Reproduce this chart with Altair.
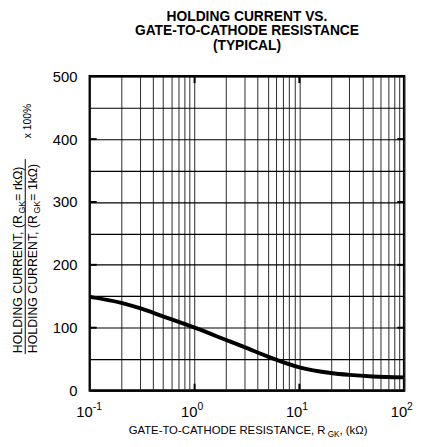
import altair as alt
import pandas as pd

# ---------------- data ----------------
TITLE_LINES = ["HOLDING CURRENT VS.", "GATE-TO-CATHODE RESISTANCE", "(TYPICAL)"]
R_KOHM = [0.1, 0.2, 0.3, 0.5, 1, 2, 3, 5, 10, 20, 30, 50, 100]
HOLD_PCT = [149, 139.5, 131, 118, 100, 80.5, 69, 54, 37, 28, 25, 22.5, 21]
X_DECADES = [0.1, 1, 10, 100]
X_BASE = ["10", "10", "10", "10"]
X_EXPONENTS = ["-1", "0", "1", "2"]
X_GRID_MULT = [1, 2, 3, 4, 5, 6, 7, 8, 9]
Y_GRID = [0, 50, 100, 150, 200, 250, 300, 350, 400, 450, 500]
Y_TICKS = [100, 200, 300, 400]
X_TICKS = [1, 10]
X_TITLE = ["GATE-TO-CATHODE RESISTANCE, R", "GK", ", (k\u03a9)"]
Y_NUM = ["HOLDING CURRENT, (R", "GK", " = rk\u03a9)"]
Y_DEN = ["HOLDING CURRENT, (R", "GK", " = 1k\u03a9)"]
Y_FACTOR = "x 100%"

# ---------------- layout ----------------
W, H = 319, 319
FONT = "Liberation Sans"

AW = {' ': 278, '(': 333, ')': 333, ',': 278, '-': 333, '=': 584, '%': 889,
      'x': 500, 'r': 333, 'k': 500, '\u03a9': 768, 'A': 667, 'C': 722, 'D': 722,
      'E': 667, 'G': 778, 'H': 722, 'I': 278, 'K': 667, 'L': 556, 'N': 722,
      'O': 778, 'R': 722, 'S': 667, 'T': 611, 'U': 722}


def tw(s, size):
    return sum(AW.get(c, 556) for c in s) * size / 1000.0


xs = alt.Scale(type="log", domain=[0.1, 100], nice=False)
ys = alt.Scale(domain=[0, 500], nice=False)

grid_x_vals = [round(d * m, 4) for d in [0.1, 1, 10] for m in X_GRID_MULT] + [100]

X_AXIS = alt.Axis(values=grid_x_vals, grid=True, labels=False, ticks=False,
                  domain=False, title=None, gridColor="#2a2a2a", gridWidth=1,
                  gridOpacity=1)
Y_AXIS = alt.Axis(values=Y_GRID, grid=True, ticks=False, domain=False, title=None,
                  labelExpr="datum.value % 100 == 0 ? datum.label : ''",
                  labelFont=FONT, labelFontSize=15, labelColor="black",
                  labelPadding=13, gridColor="black", gridWidth=1.2, gridOpacity=1)

curve_df = pd.DataFrame({"r": R_KOHM, "h": HOLD_PCT})
curve = alt.Chart(curve_df).mark_line(
    color="black", strokeWidth=4, interpolate="monotone"
).encode(
    x=alt.X("r:Q", scale=xs, axis=X_AXIS),
    y=alt.Y("h:Q", scale=ys, axis=Y_AXIS),
)

layers = [curve]

# inward ticks
yt = pd.DataFrame({"h": Y_TICKS})
for x1, x2 in [(0, 7), (W - 7, W)]:
    layers.append(alt.Chart(yt).mark_rule(color="black", strokeWidth=2).encode(
        y=alt.Y("h:Q", scale=ys, axis=Y_AXIS), x=alt.value(x1), x2=alt.value(x2)))
xt = pd.DataFrame({"r": X_TICKS})
for y1, y2 in [(0, 7), (H - 7, H)]:
    layers.append(alt.Chart(xt).mark_rule(color="black", strokeWidth=2).encode(
        x=alt.X("r:Q", scale=xs, axis=X_AXIS), y=alt.value(y1), y2=alt.value(y2)))

# x tick labels 10^n
xl = pd.DataFrame({"r": X_DECADES, "b": X_BASE, "e": X_EXPONENTS})
layers.append(alt.Chart(xl).mark_text(
    align="right", baseline="alphabetic", dx=3, dy=27, fontSize=15, font=FONT,
    color="black").encode(x=alt.X("r:Q", scale=xs, axis=X_AXIS), y=alt.value(H),
                          text="b:N"))
layers.append(alt.Chart(xl).mark_text(
    align="left", baseline="alphabetic", dx=3, dy=20, fontSize=10.5, font=FONT,
    color="black").encode(x=alt.X("r:Q", scale=xs, axis=X_AXIS), y=alt.value(H),
                          text="e:N"))


def one(t):
    return pd.DataFrame({"t": [t]})


# x title with subscript
fs, fs2 = 11.5, 8.3
wx = tw(X_TITLE[0], fs) + tw(X_TITLE[1], fs2) + tw(X_TITLE[2], fs)
x0 = 161 - wx / 2
offs = [0, tw(X_TITLE[0], fs) - 0.5, tw(X_TITLE[0], fs) + tw(X_TITLE[1], fs2) - 0.5]
for part, off, size, sub in zip(X_TITLE, offs, [fs, fs2, fs], [0, 3, 0]):
    layers.append(alt.Chart(one(part)).mark_text(
        align="left", baseline="alphabetic", dx=off, dy=sub, fontSize=size,
        font=FONT, color="black").encode(
        x=alt.value(x0), y=alt.value(H + 44), text="t:N"))

# y title: fraction, rotated
fy, fy2 = 12.5, 9.0
ystart = 281
widths = []
for parts, xb in [(Y_NUM, -69), (Y_DEN, -54)]:
    o = [0, tw(parts[0], fy), tw(parts[0], fy) + tw(parts[1], fy2)]
    widths.append(o[2] + tw(parts[2], fy))
    for part, off, size, sub in zip(parts, o, [fy, fy2, fy], [0, 3, 0]):
        layers.append(alt.Chart(one(part)).mark_text(
            angle=270, align="left", baseline="alphabetic", dx=off, dy=sub,
            fontSize=size, font=FONT, color="black").encode(
            x=alt.value(xb), y=alt.value(ystart), text="t:N"))

layers.append(alt.Chart(one("line")).mark_rule(color="black", strokeWidth=1).encode(
    x=alt.value(-65.5), y=alt.value(ystart + 1), y2=alt.value(ystart - max(widths) - 1)))

layers.append(alt.Chart(one(Y_FACTOR)).mark_text(
    angle=270, align="left", baseline="alphabetic", fontSize=10.5, font=FONT,
    color="black").encode(x=alt.value(-60), y=alt.value(63), text="t:N"))

chart = alt.layer(*layers).properties(
    width=W, height=H,
    autosize=alt.AutoSizeParams(type="none"),
    padding={"left": 83, "top": 66, "right": 10, "bottom": 52},
    title=alt.TitleParams(TITLE_LINES, font=FONT, fontSize=14, fontWeight="bold",
                          lineHeight=14.5, anchor="middle", frame="group",
                          baseline="bottom", offset=3, color="black"),
).configure_view(stroke="black", strokeWidth=2.5)

chart.save("out.html", embed_options={"renderer": "svg", "actions": False})
